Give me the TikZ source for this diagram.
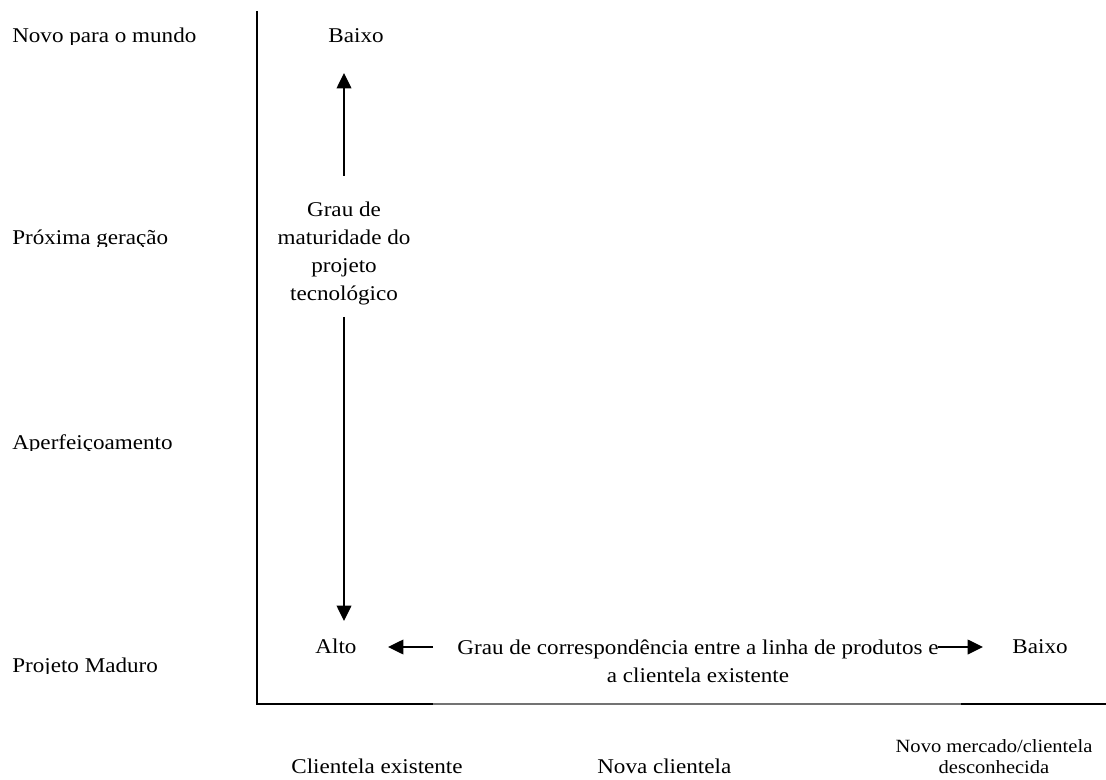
\documentclass[tikz,border=0pt]{standalone}
\usepackage{fontspec}
\setmainfont{Liberation Serif}[FakeStretch=1.1]
\usetikzlibrary{arrows.meta}
\begin{document}
\begin{tikzpicture}[x=0.75pt,y=-0.75pt,
  lbl/.style={inner sep=0pt,font=\fontsize{15.75pt}{21pt}\selectfont},
  sidelbl/.style={lbl,anchor=base west},
  smalllbl/.style={inner sep=0pt,align=center,font=\fontsize{14pt}{15.5pt}\selectfont},
  axis/.style={line width=1.4pt},
  thinaxis/.style={line width=0.8pt,draw=black!55},
  dirarrow/.style={line width=1.1pt,-{Triangle[length=11.5pt,width=11pt]}}]
\useasboundingbox (0,0) rectangle (1106,780);

% axes
\coordinate (top) at (257,11);
\coordinate (origin) at (257,704);
\coordinate (gapL) at (433,704);
\coordinate (gapR) at (961,704);
\coordinate (right) at (1106,704);
\draw[thinaxis] (gapL) -- (gapR);
\draw[axis] (top) -- (origin) -- (gapL);
\draw[axis] (gapR) -- (right);

% row labels on the left, their descenders cut off by the text boxes
\begin{scope}
  \clip (0,0) rectangle (250,44.5);
  \node[sidelbl] (novo) at (12,43) {Novo para o mundo};
\end{scope}
\begin{scope}
  \clip (0,200) rectangle (250,247);
  \node[sidelbl] (prox) at (12,245) {Próxima geração};
\end{scope}
\begin{scope}
  \clip (0,400) rectangle (250,450.5);
  \node[sidelbl] (aperf) at (12,449) {Aperfeiçoamento};
\end{scope}
\begin{scope}
  \clip (0,640) rectangle (250,673.5);
  \node[sidelbl] (maduro) at (12,672) {Projeto Maduro};
\end{scope}

% vertical scale
\node[lbl,anchor=base] (vbaixo) at (356,43) {Baixo};
\node[lbl,align=center] (vgrau) at (344,253) {Grau de\\maturidade do\\projeto\\tecnológico};
\node[lbl,anchor=base] (alto) at (336,653) {Alto};
\coordinate (upstart) at (344,176);
\coordinate (uptip) at (344,73);
\coordinate (downstart) at (344,317);
\coordinate (downtip) at (344,621);
\draw[dirarrow] (upstart) -- (uptip);
\draw[dirarrow] (downstart) -- (downtip);

% horizontal scale
\node[lbl,align=center] (hgrau) at (698,661) {Grau de correspondência entre a linha de produtos e\\a clientela existente};
\node[lbl,anchor=base] (hbaixo) at (1040,653) {Baixo};
\coordinate (leftstart) at (433,647);
\coordinate (lefttip) at (388,647);
\coordinate (rightstart) at (938,647);
\coordinate (righttip) at (983,647);
\draw[dirarrow] (leftstart) -- (lefttip);
\draw[dirarrow] (rightstart) -- (righttip);

% column labels below
\node[lbl,anchor=base] (cexist) at (377,773) {Clientela existente};
\node[lbl,anchor=base west] (cnova) at (597,773) {Nova clientela};
\node[smalllbl,anchor=base] (cmerc) at (994,752) {Novo mercado/clientela};
\node[smalllbl,anchor=base] (cdesc) at (994,773) {desconhecida};
\end{tikzpicture}
\end{document}
